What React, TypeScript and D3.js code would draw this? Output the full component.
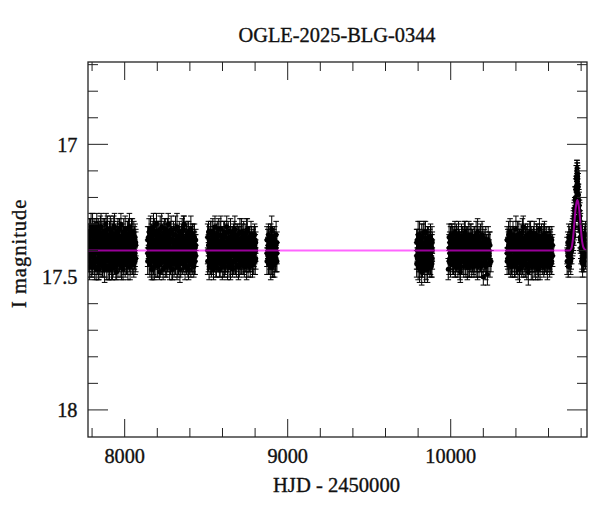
import React from 'react';
import * as d3 from 'd3';

// Each night: [HJD-2450000, error, I mag, I mag, ...]
type Night = number[];

const season2017: Night[] = [
  [7776,.05,17.43,17.35,17.39],[7781,.04,17.36,17.44,17.40],[7785,.05,17.41,17.33,17.46],[7790,.05,17.33,17.42,17.38],
  [7794,.05,17.45,17.37,17.31],[7799,.04,17.39,17.46,17.34],[7803,.05,17.31,17.40,17.44],[7808,.05,17.42,17.35,17.38],
  [7812,.04,17.37,17.45,17.32],[7816,.05,17.46,17.39,17.34],[7821,.05,17.35,17.43,17.40],[7825,.04,17.40,17.32,17.47],
  [7829,.04,17.30,17.41,17.37],[7834,.05,17.44,17.36,17.40],[7838,.05,17.38,17.46,17.33],[7842,.04,17.47,17.39,17.35],
  [7847,.05,17.34,17.42,17.44],[7851,.04,17.41,17.36,17.31],[7855,.05,17.31,17.45,17.39],[7860,.05,17.43,17.37,17.34],
  [7864,.04,17.36,17.41,17.46],[7868,.05,17.40,17.33,17.43],[7873,.05,17.45,17.38,17.35],[7877,.05,17.33,17.42,17.47],
  [7881,.04,17.39,17.35,17.44],[7886,.04,17.30,17.40,17.37],[7890,.05,17.42,17.46,17.34],[7894,.05,17.37,17.32,17.41],
  [7899,.04,17.47,17.39,17.43],[7903,.04,17.35,17.44,17.38],[7907,.05,17.41,17.34,17.46],[7912,.05,17.32,17.43,17.37],
  [7916,.05,17.44,17.38,17.33],[7920,.04,17.38,17.47,17.41],[7925,.05,17.46,17.35,17.40],[7929,.05,17.34,17.42,17.45],
  [7933,.04,17.40,17.36,17.31],[7938,.05,17.31,17.44,17.39],[7942,.05,17.43,17.37,17.35],[7946,.05,17.36,17.41,17.46],
  [7951,.03,17.48,17.39,17.34],[7955,.04,17.39,17.33,17.43],[7959,.05,17.33,17.45,17.40],[7964,.05,17.42,17.37,17.36],
  [7968,.04,17.37,17.44,17.32],[7972,.05,17.45,17.40,17.35],[7977,.04,17.30,17.38,17.43],[7981,.05,17.41,17.46,17.36],
  [7985,.04,17.35,17.42,17.39],[7990,.04,17.47,17.34,17.41],[7994,.05,17.38,17.44,17.33],[7998,.05,17.43,17.36,17.40],
  [8003,.05,17.32,17.41,17.45],[8007,.04,17.40,17.35,17.38],[8011,.05,17.36,17.44,17.42],[8016,.05,17.44,17.39,17.34],
  [8020,.05,17.34,17.46,17.40],[8024,.04,17.41,17.37,17.32],[8029,.05,17.31,17.43,17.38],[8033,.05,17.46,17.35,17.41],
  [8038,.04,17.37,17.42,17.45],[8042,.05,17.42,17.33,17.39],[8047,.05,17.33,17.40,17.44],[8051,.04,17.39,17.45,17.36],
  [8056,.05,17.45,17.38,17.34],[8060,.05,17.36,17.42,17.40],[8064,.05,17.41,17.35,17.44],[8068,.05,17.38,17.43,17.37],
];

const season2018: Night[] = [
  [8141,.05,17.41,17.36,17.44],[8146,.04,17.35,17.42,17.39],[8150,.05,17.44,17.38,17.33],[8155,.05,17.38,17.45,17.41],
  [8159,.05,17.32,17.40,17.36],[8164,.04,17.42,17.34,17.47],[8168,.05,17.36,17.43,17.39],[8173,.04,17.47,17.37,17.33],
  [8177,.05,17.39,17.31,17.44],[8182,.05,17.33,17.41,17.46],[8186,.04,17.43,17.36,17.38],[8191,.05,17.37,17.45,17.34],
  [8195,.04,17.30,17.40,17.42],[8200,.05,17.45,17.35,17.39],[8204,.04,17.40,17.46,17.33],[8209,.05,17.34,17.42,17.37],
  [8213,.03,17.48,17.38,17.43],[8218,.05,17.38,17.32,17.45],[8222,.04,17.42,17.36,17.40],[8227,.05,17.31,17.44,17.38],
  [8231,.05,17.44,17.39,17.35],[8236,.04,17.36,17.47,17.41],[8240,.05,17.40,17.34,17.43],[8245,.05,17.33,17.42,17.37],
  [8249,.04,17.46,17.38,17.32],[8254,.05,17.39,17.44,17.35],[8258,.04,17.35,17.41,17.46],[8263,.05,17.43,17.37,17.33],
  [8267,.04,17.30,17.39,17.44],[8272,.05,17.41,17.35,17.38],[8276,.05,17.37,17.46,17.42],[8281,.04,17.45,17.33,17.39],
  [8285,.05,17.32,17.40,17.36],[8290,.04,17.40,17.44,17.47],[8294,.04,17.47,17.36,17.41],[8299,.05,17.36,17.42,17.34],
  [8303,.05,17.42,17.38,17.45],[8308,.04,17.34,17.45,17.40],[8312,.05,17.44,17.37,17.32],[8317,.04,17.38,17.43,17.36],
  [8321,.05,17.31,17.40,17.46],[8326,.04,17.46,17.35,17.42],[8330,.05,17.39,17.44,17.37],[8335,.04,17.35,17.41,17.33],
  [8339,.05,17.43,17.36,17.47],[8344,.05,17.37,17.45,17.40],[8348,.04,17.41,17.34,17.38],[8353,.05,17.33,17.42,17.44],
  [8357,.04,17.45,17.39,17.35],[8361,.05,17.38,17.32,17.43],[8365,.03,17.30,17.41,17.37],[8370,.05,17.42,17.46,17.36],
  [8374,.04,17.36,17.40,17.44],[8379,.05,17.44,17.35,17.39],[8383,.05,17.34,17.43,17.41],[8388,.04,17.40,17.37,17.46],
  [8392,.04,17.47,17.42,17.33],[8397,.05,17.37,17.44,17.39],[8401,.04,17.43,17.35,17.40],[8406,.05,17.32,17.41,17.45],
  [8410,.05,17.39,17.36,17.43],[8415,.04,17.45,17.40,17.34],[8419,.05,17.35,17.43,17.38],[8424,.04,17.41,17.37,17.46],
  [8428,.05,17.38,17.44,17.35],[8432,.05,17.44,17.39,17.41],[8436,.04,17.36,17.42,17.38],
];

const season2019: Night[] = [
  [8509,.05,17.40,17.35,17.44],[8514,.04,17.44,17.38,17.33],[8518,.05,17.36,17.42,17.46],[8523,.05,17.42,17.37,17.39],
  [8527,.04,17.33,17.41,17.45],[8532,.04,17.46,17.36,17.40],[8536,.05,17.38,17.44,17.34],[8541,.05,17.41,17.33,17.43],
  [8545,.04,17.35,17.40,17.47],[8550,.05,17.43,17.38,17.36],[8554,.04,17.31,17.42,17.39],[8559,.05,17.45,17.37,17.41],
  [8563,.04,17.39,17.46,17.34],[8568,.05,17.34,17.40,17.43],[8572,.05,17.42,17.36,17.38],[8577,.04,17.37,17.44,17.32],
  [8581,.03,17.47,17.39,17.42],[8586,.05,17.40,17.34,17.45],[8590,.05,17.32,17.43,17.37],[8595,.04,17.44,17.38,17.41],
  [8599,.05,17.36,17.42,17.46],[8604,.04,17.41,17.35,17.39],[8608,.05,17.34,17.45,17.40],[8613,.04,17.46,17.37,17.33],
  [8617,.05,17.38,17.43,17.44],[8622,.05,17.43,17.39,17.35],[8626,.04,17.31,17.41,17.37],[8631,.05,17.40,17.46,17.42],
  [8635,.04,17.36,17.33,17.44],[8640,.05,17.45,17.38,17.40],[8644,.04,17.39,17.43,17.35],[8649,.05,17.33,17.37,17.46],
  [8653,.05,17.42,17.40,17.36],[8658,.04,17.37,17.45,17.41],[8662,.03,17.47,17.34,17.39],[8667,.05,17.35,17.42,17.44],
  [8671,.04,17.41,17.38,17.33],[8676,.05,17.32,17.44,17.40],[8680,.05,17.44,17.36,17.38],[8685,.04,17.38,17.41,17.46],
  [8689,.05,17.43,17.35,17.37],[8694,.04,17.34,17.40,17.42],[8698,.05,17.40,17.46,17.36],[8703,.04,17.46,17.39,17.43],
  [8707,.05,17.36,17.33,17.41],[8712,.04,17.42,17.45,17.38],[8716,.05,17.33,17.39,17.44],[8721,.05,17.39,17.42,17.35],
  [8725,.04,17.45,17.37,17.40],[8730,.05,17.37,17.44,17.34],[8734,.04,17.41,17.36,17.46],[8739,.05,17.35,17.40,17.43],
  [8743,.04,17.44,17.38,17.39],[8748,.05,17.38,17.46,17.33],[8752,.04,17.32,17.41,17.37],[8757,.05,17.43,17.36,17.45],
  [8761,.05,17.36,17.42,17.40],[8766,.04,17.40,17.35,17.44],[8770,.04,17.46,17.39,17.37],[8775,.05,17.34,17.43,17.41],
  [8779,.04,17.42,17.38,17.35],[8784,.05,17.38,17.45,17.42],[8788,.04,17.45,17.36,17.39],[8793,.05,17.36,17.41,17.44],
  [8797,.04,17.41,17.34,17.38],[8801,.05,17.39,17.44,17.36],[8804,.04,17.43,17.37,17.40],
];

const season2020: Night[] = [
  [8873,.05,17.41,17.36,17.44],[8878,.04,17.36,17.42,17.39],[8882,.04,17.45,17.38,17.34],[8887,.05,17.39,17.44,17.41],
  [8891,.04,17.43,17.35,17.40],[8896,.05,17.35,17.41,17.46],[8900,.04,17.40,17.37,17.43],[8902,.05,17.32,17.44,17.38],
  [8906,.04,17.46,17.39,17.35],[8911,.05,17.38,17.42,17.45],[8915,.04,17.42,17.36,17.40],[8920,.05,17.36,17.45,17.39],
  [8925,.04,17.44,17.38,17.41],[8929,.05,17.39,17.34,17.43],[8934,.04,17.41,17.37,17.44],
];

const season2022: Night[] = [
  [9791,.05,17.42,17.37,17.45],[9795,.04,17.36,17.43,17.40],[9800,.05,17.46,17.39,17.34],[9804,.04,17.39,17.44,17.41],
  [9809,.05,17.34,17.41,17.47],[9813,.04,17.44,17.36,17.39],[9818,.05,17.38,17.45,17.42],[9822,.05,17.48,17.35,17.40],
  [9827,.04,17.41,17.46,17.37],[9831,.05,17.35,17.42,17.44],[9836,.04,17.45,17.38,17.33],[9840,.05,17.40,17.47,17.43],
  [9845,.04,17.33,17.41,17.38],[9849,.05,17.43,17.37,17.46],[9854,.04,17.37,17.44,17.40],[9858,.05,17.47,17.36,17.42],
  [9863,.04,17.39,17.45,17.35],[9867,.05,17.44,17.40,17.38],[9872,.04,17.36,17.43,17.46],[9876,.05,17.41,17.35,17.44],
  [9881,.04,17.38,17.46,17.40],[9885,.05,17.45,17.39,17.36],[9887,.04,17.40,17.43,17.37],
];

const season2023: Night[] = [
  [9985,.04,17.47],[9990,.05,17.39,17.44,17.35],[9994,.04,17.43,17.37,17.41],[9999,.05,17.36,17.42,17.45],
  [10003,.04,17.41,17.34,17.38],[10008,.05,17.35,17.43,17.40],[10012,.05,17.44,17.38,17.36],[10017,.04,17.38,17.45,17.42],
  [10021,.05,17.42,17.36,17.39],[10026,.04,17.33,17.41,17.46],[10030,.05,17.45,17.39,17.37],[10035,.04,17.39,17.44,17.34],
  [10039,.05,17.36,17.40,17.43],[10044,.04,17.43,17.37,17.46],[10048,.05,17.34,17.42,17.39],[10053,.04,17.40,17.45,17.36],
  [10057,.05,17.46,17.38,17.41],[10059,.04,17.48],[10062,.04,17.37,17.43,17.40],[10066,.05,17.42,17.35,17.44],
  [10071,.04,17.35,17.41,17.38],[10075,.05,17.44,17.39,17.36],[10080,.04,17.38,17.46,17.42],[10084,.05,17.41,17.34,17.37],
  [10089,.04,17.33,17.40,17.45],[10093,.05,17.45,17.37,17.41],[10098,.04,17.39,17.43,17.35],[10102,.05,17.36,17.42,17.46],
  [10107,.04,17.43,17.38,17.40],[10111,.05,17.37,17.45,17.34],[10116,.04,17.46,17.40,17.38],[10120,.05,17.40,17.35,17.43],
  [10125,.04,17.34,17.42,17.39],[10129,.05,17.42,17.37,17.45],[10134,.04,17.38,17.44,17.36],[10138,.05,17.44,17.39,17.41],
  [10143,.04,17.35,17.46,17.40],[10147,.05,17.41,17.36,17.43],[10152,.04,17.37,17.42,17.38],[10156,.05,17.45,17.40,17.34],
  [10161,.04,17.39,17.44,17.42],[10165,.05,17.33,17.38,17.46],[10170,.04,17.43,17.36,17.40],[10174,.05,17.36,17.45,17.39],
  [10179,.04,17.42,17.37,17.44],[10183,.05,17.38,17.43,17.35],[10188,.04,17.46,17.40,17.41],[10192,.05,17.40,17.34,17.45],
  [10197,.04,17.35,17.42,17.38],[10200,.03,17.50],[10205,.05,17.43,17.37,17.40],[10210,.04,17.37,17.44,17.42],
  [10215,.05,17.41,17.36,17.46],[10220,.04,17.45,17.39,17.38],[10225,.04,17.49],[10230,.05,17.39,17.43,17.36],
  [10236,.04,17.42,17.37,17.40],[10241,.05,17.38,17.45],[10247,.04,17.44],
];

const season2024: Night[] = [
  [10346,.05,17.41,17.36,17.44],[10350,.04,17.36,17.43,17.39],[10355,.05,17.44,17.38,17.34],[10359,.04,17.39,17.45,17.41],
  [10364,.05,17.33,17.40,17.37],[10368,.04,17.42,17.35,17.46],[10373,.05,17.37,17.44,17.40],[10377,.04,17.46,17.39,17.35],
  [10382,.05,17.40,17.34,17.43],[10386,.04,17.35,17.42,17.38],[10391,.05,17.43,17.37,17.45],[10395,.04,17.38,17.46,17.41],
  [10400,.05,17.32,17.40,17.36],[10404,.04,17.45,17.38,17.42],[10409,.05,17.39,17.44,17.34],[10413,.04,17.41,17.36,17.47],
  [10418,.05,17.34,17.42,17.39],[10422,.05,17.47,17.37,17.43],[10427,.04,17.37,17.45,17.40],[10431,.05,17.42,17.35,17.38],
  [10436,.04,17.36,17.41,17.46],[10440,.05,17.44,17.39,17.33],[10445,.04,17.31,17.43,17.40],[10449,.05,17.40,17.36,17.45],
  [10454,.04,17.38,17.44,17.42],[10458,.05,17.45,17.37,17.35],[10463,.04,17.35,17.41,17.39],[10467,.05,17.42,17.46,17.36],
  [10472,.04,17.39,17.34,17.43],[10476,.05,17.48,17.40,17.37],[10481,.04,17.37,17.43,17.45],[10485,.05,17.43,17.38,17.34],
  [10490,.04,17.33,17.42,17.40],[10494,.05,17.41,17.36,17.46],[10499,.04,17.36,17.44,17.39],[10503,.05,17.46,17.38,17.42],
  [10508,.04,17.40,17.35,17.37],[10512,.05,17.34,17.43,17.45],[10517,.04,17.44,17.39,17.36],[10521,.05,17.38,17.46,17.41],
  [10526,.04,17.42,17.37,17.34],[10530,.05,17.35,17.40,17.44],[10535,.04,17.47,17.38,17.42],[10539,.05,17.39,17.45,17.36],
  [10544,.04,17.32,17.41,17.38],[10548,.05,17.43,17.36,17.46],[10553,.04,17.37,17.44,17.40],[10557,.05,17.41,17.35,17.39],
  [10562,.04,17.45,17.38,17.43],[10566,.05,17.36,17.42,17.37],[10571,.04,17.40,17.46,17.34],[10575,.05,17.34,17.39,17.44],
  [10580,.04,17.44,17.37,17.41],[10584,.05,17.38,17.43,17.36],[10589,.04,17.42,17.35,17.45],[10593,.05,17.46,17.40,17.38],
  [10598,.04,17.37,17.44,17.42],[10602,.05,17.41,17.36,17.39],[10607,.04,17.35,17.43,17.46],[10611,.05,17.43,17.38,17.37],
  [10616,.04,17.39,17.45,17.41],[10620,.05,17.44,17.36,17.40],[10625,.04,17.38,17.42],
];

const season2025: Night[] = [
  [10714,.05,17.40,17.44],[10718,.04,17.37,17.42],[10721,.04,17.46],[10724,.05,17.39,17.35],[10727,.04,17.42,17.38],
  [10730,.05,17.36,17.43],[10733,.04,17.41,17.37],[10736,.05,17.38,17.44],[10739,.04,17.43,17.36],[10742,.05,17.35,17.40],
  [10745,.04,17.39,17.33],[10748,.05,17.33,17.37],[10751,.04,17.37,17.31],[10753,.05,17.30,17.35],[10755,.04,17.34,17.28],
  [10757,.05,17.27,17.31],[10759,.04,17.31,17.25],[10761,.04,17.24,17.28],[10763,.05,17.28,17.21],[10765,.04,17.20,17.24],
  [10767,.04,17.25,17.17],[10769,.04,17.16,17.21],[10771,.05,17.21,17.13],[10772,.04,17.12,17.17],[10774,.04,17.18,17.10],
  [10775,.03,17.09,17.14],[10776,.04,17.14,17.11],[10777,.04,17.11,17.16],[10778,.04,17.17,17.12],[10779,.04,17.13,17.19],
  [10780,.04,17.20,17.15],[10782,.05,17.16,17.22],[10784,.04,17.24,17.19],[10786,.04,17.21,17.27],[10788,.05,17.28,17.23],
  [10790,.04,17.25,17.31],[10792,.05,17.32,17.27],[10794,.04,17.29,17.35],[10796,.05,17.36,17.31],[10798,.04,17.33,17.39],
  [10800,.05,17.40,17.35],[10803,.04,17.37,17.44],[10806,.04,17.43,17.38],[10809,.05,17.35,17.45],[10812,.04,17.41,17.37],
  [10815,.05,17.38,17.43],[10818,.04,17.44,17.36],[10821,.05,17.36,17.41],[10824,.04,17.40,17.34],[10827,.05,17.34,17.42],
  [10830,.04,17.42,17.38],
];

const modelCurve: [number, number][] = [
  [7775,17.40],[10728,17.40],[10740,17.392],[10750,17.355],[10758,17.30],[10765,17.25],[10771,17.222],
  [10777,17.21],[10783,17.222],[10789,17.25],[10796,17.30],[10804,17.355],[10814,17.388],[10826,17.398],[10836,17.40],
];

const chartTitle = 'OGLE-2025-BLG-0344';
const xLabel = 'HJD - 2450000';
const yLabel = 'I magnitude';
const xMajorTicks = [8000, 9000, 10000];
const yMajorTicks = [17, 17.5, 18];
const yTickLabels = ['17', '17.5', '18'];
const xDomain: [number, number] = [7775, 10836];
const yDomain: [number, number] = [16.69, 18.102];

const FONT = "'Liberation Serif', 'Times New Roman', serif";

export default function App() {
  const W = 600, H = 512;
  const L = 88, R = 587, T = 62, B = 437;
  const x = d3.scaleLinear().domain(xDomain).range([L, R]);
  const y = d3.scaleLinear().domain(yDomain).range([T, B]);
  const xMinor = d3.range(7800, 10801, 200).filter(v => v % 1000 !== 0);
  const yMinor = d3.range(167, 181).map(v => v / 10).filter(v => !yMajorTicks.some(m => Math.abs(m - v) < 1e-6));
  const nights = [season2017, season2018, season2019, season2020, season2022, season2023, season2024, season2025].flat();
  const allObs: [number, number, number][] = nights.flatMap(n => n.slice(2).map(m => [n[0], m, n[1]] as [number, number, number]));
  const line = d3.line<[number, number]>().x(d => x(d[0])).y(d => y(d[1])).curve(d3.curveMonotoneX);

  const tickColor = '#222';
  const textProps = { fontFamily: FONT, fill: '#111', stroke: '#111', strokeWidth: 0.35 };
  return (
    <svg width={W} height={H} viewBox={`0 0 ${W} ${H}`} style={{ position: 'absolute', left: 0, top: 0, background: '#fff' }}>
      <defs>
        <clipPath id="plotClip"><rect x={L} y={T} width={R - L} height={B - T} /></clipPath>
      </defs>
      <rect x={0} y={0} width={W} height={H} fill="#fff" />
      <g clipPath="url(#plotClip)">
        {allObs.map((d, i) => {
          const cx = x(d[0]);
          const y1 = y(d[1] - d[2]);
          const y2 = y(d[1] + d[2]);
          return (
            <g key={i}>
              <line x1={cx} x2={cx} y1={y1} y2={y2} stroke="#000" strokeWidth={1} />
              <line x1={cx - 2.8} x2={cx + 2.8} y1={y1} y2={y1} stroke="#000" strokeWidth={1} />
              <line x1={cx - 2.8} x2={cx + 2.8} y1={y2} y2={y2} stroke="#000" strokeWidth={1} />
              <circle cx={cx} cy={y(d[1])} r={2.5} fill="#000" />
            </g>
          );
        })}
        <path d={line(modelCurve) || ''} fill="none" stroke="#ff00ff" strokeOpacity={0.6} strokeWidth={2} />
      </g>
      <rect x={L} y={T} width={R - L} height={B - T} fill="none" stroke={tickColor} strokeWidth={1.3} />
      {xMinor.map(v => (
        <g key={'xm' + v}>
          <line x1={x(v)} x2={x(v)} y1={B} y2={B - 9} stroke={tickColor} strokeWidth={1} />
          <line x1={x(v)} x2={x(v)} y1={T} y2={T + 9} stroke={tickColor} strokeWidth={1} />
        </g>
      ))}
      {xMajorTicks.map(v => (
        <g key={'xM' + v}>
          <line x1={x(v)} x2={x(v)} y1={B} y2={B - 18} stroke={tickColor} strokeWidth={1} />
          <line x1={x(v)} x2={x(v)} y1={T} y2={T + 18} stroke={tickColor} strokeWidth={1} />
          <text x={x(v)} y={462.5} textAnchor="middle" fontSize={20.3} {...textProps}>{v}</text>
        </g>
      ))}
      {yMinor.map(v => (
        <g key={'ym' + v}>
          <line x1={L} x2={L + 10} y1={y(v)} y2={y(v)} stroke={tickColor} strokeWidth={1} />
          <line x1={R} x2={R - 10} y1={y(v)} y2={y(v)} stroke={tickColor} strokeWidth={1} />
        </g>
      ))}
      {yMajorTicks.map((v, i) => (
        <g key={'yM' + v}>
          <line x1={L} x2={L + 20} y1={y(v)} y2={y(v)} stroke={tickColor} strokeWidth={1} />
          <line x1={R} x2={R - 20} y1={y(v)} y2={y(v)} stroke={tickColor} strokeWidth={1} />
          <text x={77.5} y={y(v) + 7.2} textAnchor="end" fontSize={20.3} {...textProps}>{yTickLabels[i]}</text>
        </g>
      ))}
      <text x={337} y={41.7} textAnchor="middle" fontSize={20.4} {...textProps}>{chartTitle}</text>
      <text x={336.5} y={491.5} textAnchor="middle" fontSize={20.6} {...textProps}>{xLabel}</text>
      <text transform="translate(26,253.3) rotate(-90)" textAnchor="middle" fontSize={20.5} letterSpacing={1} {...textProps}>{yLabel}</text>
    </svg>
  );
}
